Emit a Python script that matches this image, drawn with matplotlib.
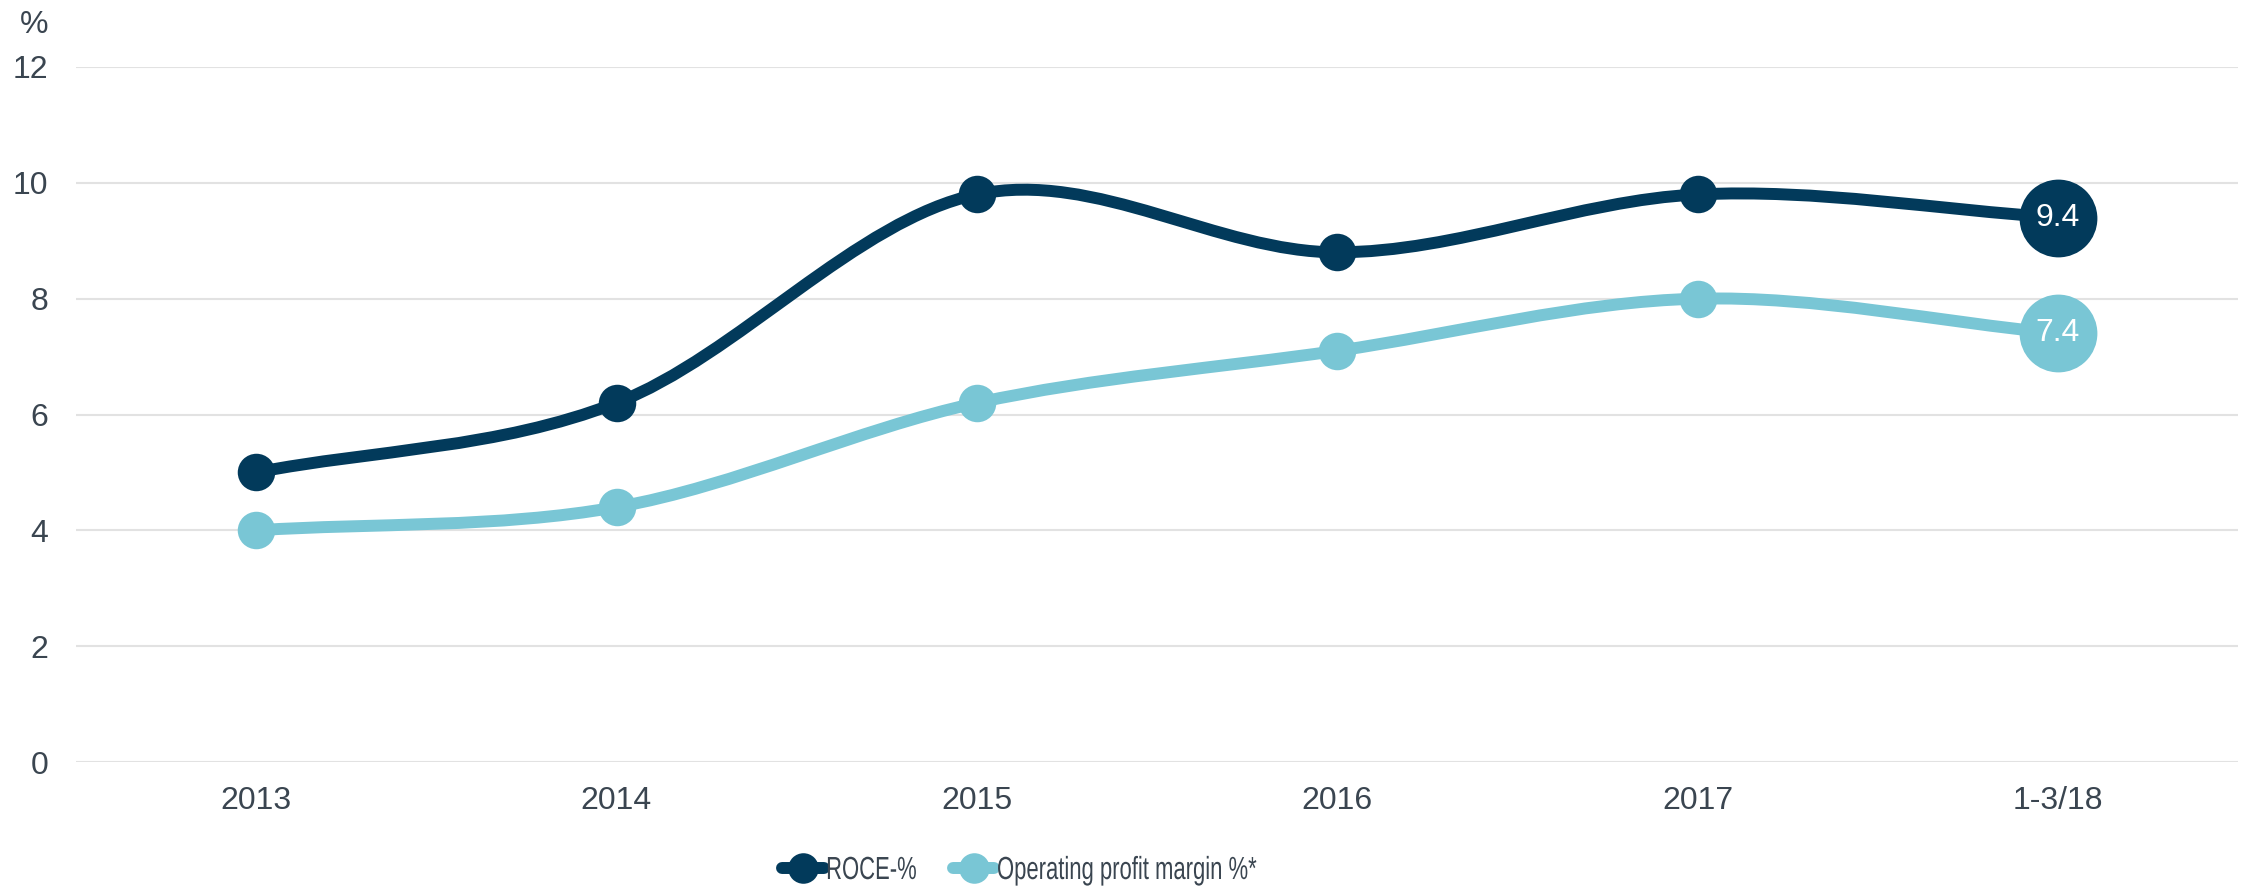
import matplotlib
matplotlib.use("Agg")
import matplotlib.pyplot as plt
from matplotlib.path import Path
from matplotlib.patches import PathPatch
from matplotlib.lines import Line2D
from matplotlib.patheffects import AbstractPathEffect
from matplotlib.transforms import Affine2D

categories = ["2013", "2014", "2015", "2016", "2017", "1-3/18"]
roce = [5.0, 6.2, 9.8, 8.8, 9.8, 9.4]
opm = [4.0, 4.4, 6.2, 7.1, 8.0, 7.4]
series_names = ["ROCE-%", "Operating profit margin %*"]
yticks = [0, 2, 4, 6, 8, 10, 12]

c_roce = "#023a5b"
c_opm = "#79c6d5"
txt = "#3a4550"

plt.rcParams["font.family"] = ["Liberation Sans", "DejaVu Sans"]

fig = plt.figure(figsize=(22.52, 8.90), dpi=100)
ax = fig.add_axes([76/2252, 1-762/890, (2238-76)/2252, (762-67)/890])


class HCondense(AbstractPathEffect):
    """Horizontally condense text glyphs around the text origin."""
    def __init__(self, sx):
        super().__init__()
        self.sx = sx

    def draw_path(self, renderer, gc, tpath, affine, rgbFace=None):
        m = affine.get_matrix().copy()
        m[0, 0] *= self.sx
        m[0, 1] *= self.sx
        renderer.draw_path(gc, tpath, Affine2D(m), rgbFace)


def smooth_path(xs, ys):
    # Catmull-Rom style cubic Bezier smoothing
    n = len(xs)
    tang = []
    for i in range(n):
        if i == 0:
            tx, ty = xs[1] - xs[0], ys[1] - ys[0]
        elif i == n - 1:
            tx, ty = xs[-1] - xs[-2], ys[-1] - ys[-2]
        else:
            tx, ty = (xs[i+1] - xs[i-1]) / 2, (ys[i+1] - ys[i-1]) / 2
        tang.append((tx, ty))
    verts = [(xs[0], ys[0])]
    codes = [Path.MOVETO]
    for i in range(1, n):
        c1 = (xs[i-1] + tang[i-1][0]/3, ys[i-1] + tang[i-1][1]/3)
        c2 = (xs[i] - tang[i][0]/3, ys[i] - tang[i][1]/3)
        verts += [c1, c2, (xs[i], ys[i])]
        codes += [Path.CURVE4]*3
    return Path(verts, codes)


x = list(range(len(categories)))
lw = 8.6
ms = 27
big = 56
for vals, col in [(opm, c_opm), (roce, c_roce)]:
    p = smooth_path(x, vals)
    ax.add_patch(PathPatch(p, facecolor="none", edgecolor=col, lw=lw,
                           capstyle="round", joinstyle="round", zorder=3))
    ax.plot(x[:-1], vals[:-1], "o", ms=ms, color=col, mec="none", zorder=4)
    ax.plot(x[-1:], vals[-1:], "o", ms=big, color=col, mec="none", zorder=4)
    ax.text(x[-1], vals[-1], f"{vals[-1]:.1f}", color="white", fontsize=23,
            ha="center", va="center", zorder=5)

ax.set_xlim(-0.5, len(categories)-0.5)
ax.set_ylim(0, 12)
ax.set_yticks(yticks)
ax.set_yticklabels([str(t) for t in yticks])
ax.set_xticks(x)
ax.set_xticklabels(categories)
ax.grid(axis="y", color="#e2e2e2", lw=1.5, zorder=0)
ax.set_axisbelow(True)
for s in ax.spines.values():
    s.set_visible(False)
ax.tick_params(axis="both", length=0, labelsize=23, colors=txt)
ax.tick_params(axis="y", pad=20)
ax.tick_params(axis="x", pad=17)

fig.text(20/2252, 1-25/890, "%", fontsize=23, color=txt, ha="left", va="center")

sx = 0.69
handles = [Line2D([0], [0], color=c, lw=lw, marker="o", ms=22, mec="none",
                  solid_capstyle="round") for c in (c_roce, c_opm)]
leg = fig.legend(handles, series_names, loc="center left", ncol=2,
                 bbox_to_anchor=(782/2252, 1-871/890), frameon=False,
                 borderpad=0, borderaxespad=0,
                 fontsize=23, handlelength=1.3, handletextpad=0.08,
                 columnspacing=-0.15, labelcolor=txt)
for t in leg.get_texts():
    t.set_path_effects([HCondense(sx)])

fig.savefig("out.png", dpi=100, facecolor="white")
